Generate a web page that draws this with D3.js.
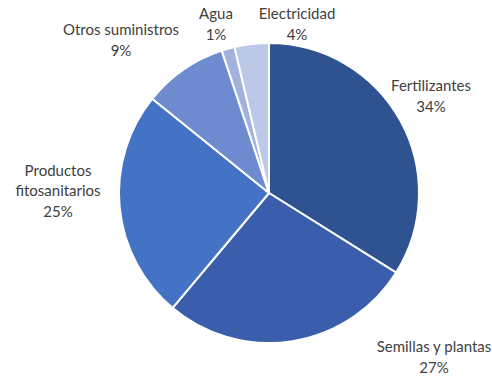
<!DOCTYPE html>
<html><head><meta charset="utf-8">
<script src="https://cdn.jsdelivr.net/npm/d3@7"></script>
<style>html,body{margin:0;padding:0;background:#fff;}svg{display:block;}</style>
</head><body>
<svg id="chart" width="492" height="376"></svg>
<script>
const categories = ["Fertilizantes", "Semillas y plantas", "Productos fitosanitarios", "Otros suministros", "Agua", "Electricidad"];
const values = [33.9, 27.2, 24.7, 9.1, 1.4, 3.7];
const labelLines = [["Fertilizantes"], ["Semillas y plantas"], ["Productos", "fitosanitarios"], ["Otros suministros"], ["Agua"], ["Electricidad"]];
const colors = ["#2F5290", "#3A5EAB", "#4472C4", "#6E8BD0", "#A2B2DE", "#BCC8E7"];
// label block centre offsets from pie centre (layout only)
const labelPos = [[162, -97], [165, 164], [-211, -2], [-148, -153], [-53, -169], [28, -169]];

const svg = d3.select("#chart");
const cx = 269, cy = 193, R = 150;
const g = svg.append("g").attr("transform", `translate(${cx},${cy})`);
const data = categories.map((c, i) => ({c, v: values[i], i}));
const pie = d3.pie().value(d => d.v).sort(null);
const arc = d3.arc().innerRadius(0).outerRadius(R);
g.selectAll("path").data(pie(data)).join("path")
  .attr("d", arc).attr("fill", d => colors[d.data.i])
  .attr("stroke", "#fff").attr("stroke-width", 2).attr("stroke-linejoin", "round");

const lh = 20.5;
data.forEach((d, i) => {
  const lines = labelLines[i].concat([Math.round(d.v) + "%"]);
  const [lx, ly] = labelPos[i];
  const t = g.append("text").attr("text-anchor", "middle")
    .attr("font-family", "Lato, 'Open Sans', sans-serif").attr("font-size", "15px").attr("fill", "#404040");
  const y0 = ly - (lines.length - 1) * lh / 2;
  lines.forEach((ln, k) => {
    t.append("tspan").attr("x", lx).attr("y", y0 + k * lh).attr("dy", "0.35em").text(ln);
  });
});
</script>
</body></html>
